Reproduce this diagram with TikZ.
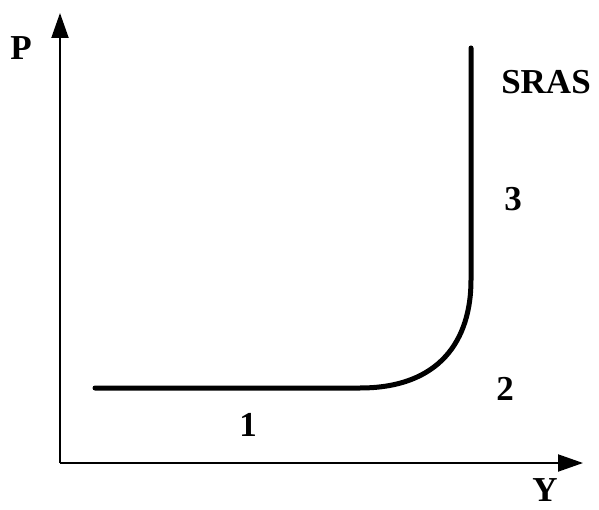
\documentclass[tikz,border=0pt]{standalone}
\usepackage{fontspec}
\setmainfont{Liberation Serif}
\usetikzlibrary{arrows.meta}
\begin{document}
\begin{tikzpicture}[x=1pt,y=-1pt,
  axis/.style={line width=2pt,-{Triangle[length=25pt,width=17pt]}},
  curve/.style={line width=5pt,line cap=round},
  lbl/.style={font=\bfseries\fontsize{35}{40}\selectfont,inner sep=0pt,anchor=base,text depth=0pt}]
\useasboundingbox (0,0) rectangle (599,510);
\coordinate (O) at (60,463);
\coordinate (Ptop) at (60,13);
\coordinate (Yend) at (583,463);
\draw[axis] (O) -- (Ptop);
\draw[axis] (O) -- (Yend);
\coordinate (c0) at (95,388);
\coordinate (c1) at (360,388);
\coordinate (c2) at (471,280);
\coordinate (c3) at (471,48);
\draw[curve] (c0) -- (c1) .. controls (440,388) and (471,340) .. (c2) -- (c3);
\node[lbl] (P) at (21,60) {P};
\node[lbl] (Y) at (545,501) {Y};
\node[lbl] (SRAS) at (546,94) {SRAS};
\node[lbl] (n3) at (513,211) {3};
\node[lbl] (n2) at (505,400) {2};
\node[lbl] (n1) at (248,436) {1};
\end{tikzpicture}
\end{document}
